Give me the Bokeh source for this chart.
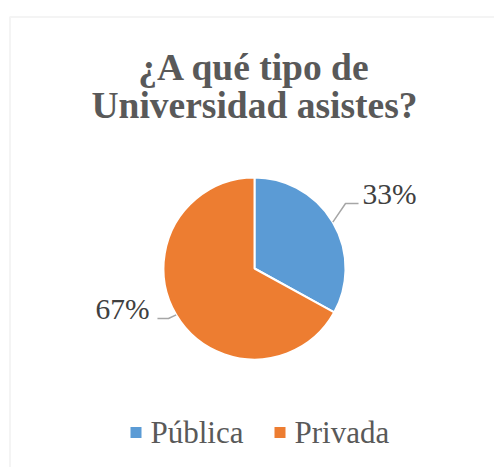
import math
from bokeh.plotting import figure
from bokeh.models import Range1d, BoxAnnotation
from bokeh.core.properties import value
from bokeh.embed import file_html
from bokeh.resources import INLINE

# ---- data ----
title_lines = ["¿A qué tipo de", "Universidad asistes?"]
categories = ["Pública", "Privada"]
values = [33, 67]
colors = ["#5B9BD5", "#ED7D31"]

W, H = 494, 467
p = figure(width=W, height=H, output_backend="svg", toolbar_location=None,
           x_range=Range1d(-8, W - 8), y_range=Range1d(0, H),
           min_border=0, outline_line_color=None)
p.axis.visible = False
p.grid.visible = False
p.background_fill_color = "white"
p.border_fill_color = "white"

# chart border (cropped on right/bottom like the reference)
p.add_layout(BoxAnnotation(left=1.5, right=W + 50, top=450.5, bottom=-50,
                           fill_alpha=0, line_color="#d9d9d9", line_width=2))

serif = value("Liberation Serif")

def base_fix(size):
    # compensate the svg baseline offset
    return 0.35 * size

# title
title_size = 37.5
title_base = [387, 349]
for line, yb in zip(title_lines, title_base):
    p.text(x=[246], y=[yb + base_fix(title_size)], text=[line], text_font=serif,
           text_font_size=f"{title_size}px", text_font_style="bold",
           text_color="#595959", text_align="center", text_baseline="alphabetic")

# pie
cx, cy, r = 246, 199, 91
total = sum(values)
starts, ends, mids = [], [], []
a = math.pi / 2
for v in values:
    sweep = 2 * math.pi * v / total
    starts.append(a)
    ends.append(a - sweep)
    mids.append(a - sweep / 2)
    a -= sweep
p.wedge(x=cx, y=cy, radius=r, start_angle=starts, end_angle=ends,
        direction="clock", fill_color=colors, line_color="white", line_width=2)

# data labels with leader lines
lab_size = 29.5
elbow_off = [(12.7, 18.7), (-7.7, -3.7)]
tail_len = [13, -11]
label_gap = [4, -8]
for v, m, eo, tl, gap in zip(values, mids, elbow_off, tail_len, label_gap):
    x0, y0 = cx + r * math.cos(m), cy + r * math.sin(m)
    x1, y1 = x0 + eo[0], y0 + eo[1]
    x2 = x1 + tl
    p.line(x=[x0, x1, x2], y=[y0, y1, y1], line_color="#a6a6a6", line_width=1.5)
    p.text(x=[x2 + gap], y=[y1 - 1 + base_fix(lab_size)], text=[f"{v}%"],
           text_font=serif, text_font_size=f"{lab_size}px", text_color="#404040",
           text_align="left" if tl > 0 else "right", text_baseline="alphabetic")

# legend
leg_size = 31
leg_x0, leg_step, leg_y = 127.5, 144, 35
for i, (c, col) in enumerate(zip(categories, colors)):
    sx = leg_x0 + i * leg_step
    p.scatter(x=[sx], y=[leg_y], marker="square", size=11, fill_color=col,
              line_color=None)
    p.text(x=[sx + 14.5], y=[leg_y - 11 + base_fix(leg_size)], text=[c],
           text_font=serif, text_font_size=f"{leg_size}px", text_color="#595959",
           text_align="left", text_baseline="alphabetic")

open("out.html", "w").write(file_html(p, INLINE))
